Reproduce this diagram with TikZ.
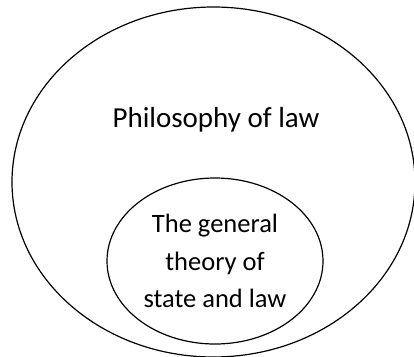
\documentclass[tikz,border=0pt]{standalone}
\usepackage{fontspec}
\setmainfont{Carlito}
\usetikzlibrary{shapes.geometric, positioning}
\tikzset{
  setbig/.style   = {ellipse, draw=black, line width=1.2pt, inner sep=0pt, minimum width=403pt, minimum height=350pt},
  setsmall/.style = {ellipse, draw=black, line width=1.2pt, inner sep=0pt, minimum width=216pt, minimum height=166pt, align=center, font=\fontsize{26.5}{37.5}\selectfont},
  setlabel/.style = {font=\fontsize{29}{34}\selectfont, anchor=base},
}
\begin{document}
\begin{tikzpicture}[x=1pt, y=-1pt]

% 画布 414 x 356
\useasboundingbox (0,0) rectangle (414,356);

% 外圈: 法哲学
\node[setbig] (philo) at (213.5,182) {};
\node[setlabel] (philolabel) at (216,127) {Philosophy of law};

% 内圈: 国家与法的一般理论
\node[setsmall] (theory) at (215,261) {The general\\theory of\\state and law};

\end{tikzpicture}
\end{document}
